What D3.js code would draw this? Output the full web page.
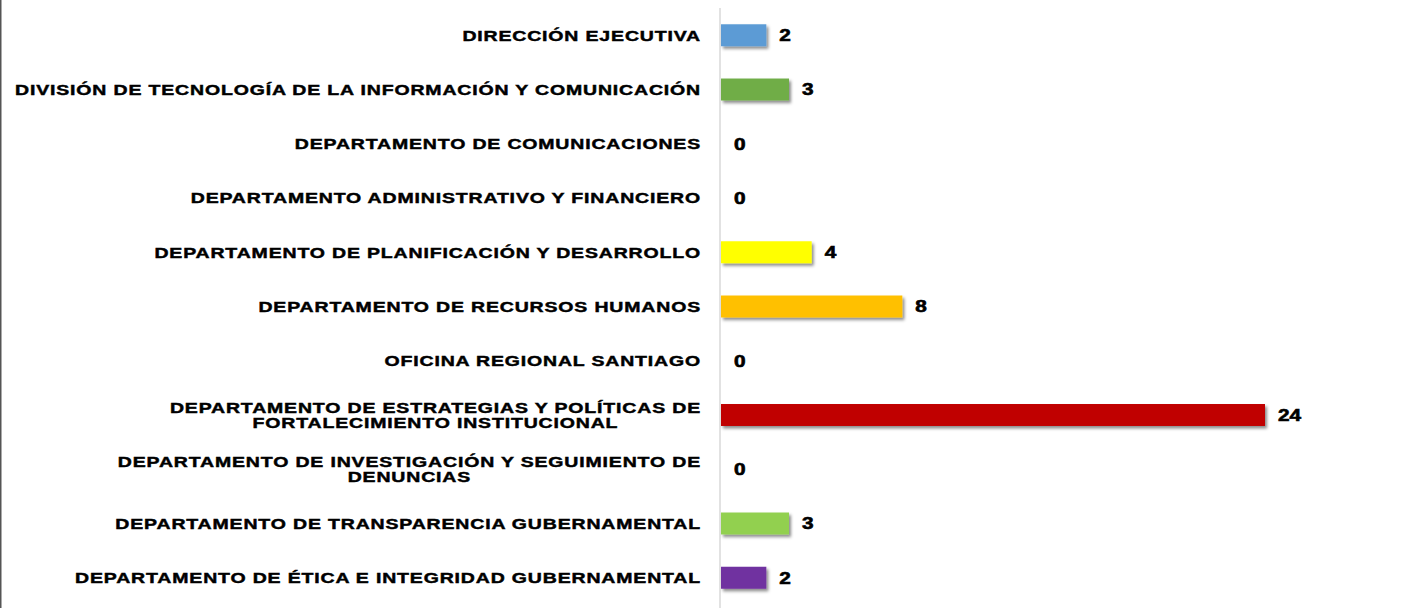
<!DOCTYPE html>
<html><head><meta charset="utf-8">
<script src="https://cdn.jsdelivr.net/npm/d3@7"></script>
<style>
html,body{margin:0;padding:0;background:#fff;}
svg{display:block;}
text{font-family:"Liberation Sans",Arial,sans-serif;font-weight:bold;fill:#000;}
</style></head><body>
<svg id="chart" width="1422" height="608"></svg>
<script>
const categories = [
  ["DIRECCIÓN EJECUTIVA"],
  ["DIVISIÓN DE TECNOLOGÍA DE LA INFORMACIÓN Y COMUNICACIÓN"],
  ["DEPARTAMENTO DE COMUNICACIONES"],
  ["DEPARTAMENTO ADMINISTRATIVO Y FINANCIERO"],
  ["DEPARTAMENTO DE PLANIFICACIÓN Y DESARROLLO"],
  ["DEPARTAMENTO DE RECURSOS HUMANOS"],
  ["OFICINA REGIONAL SANTIAGO"],
  ["DEPARTAMENTO DE ESTRATEGIAS Y POLÍTICAS DE", "FORTALECIMIENTO INSTITUCIONAL"],
  ["DEPARTAMENTO DE INVESTIGACIÓN Y SEGUIMIENTO DE", "DENUNCIAS"],
  ["DEPARTAMENTO DE TRANSPARENCIA GUBERNAMENTAL"],
  ["DEPARTAMENTO DE ÉTICA E INTEGRIDAD GUBERNAMENTAL"]
];
const values = [2, 3, 0, 0, 4, 8, 0, 24, 0, 3, 2];
const colors = ["#5B9BD5", "#70AD47", "#A5A5A5", "#A5A5A5", "#FFFF00", "#FFC000", "#A5A5A5", "#C00000", "#A5A5A5", "#92D050", "#7030A0"];

const W = 1422, H = 608;
const svg = d3.select("#chart");
const x0 = 721;
const x = d3.scaleLinear().domain([0, 24]).range([x0, 1265]);
const y = d3.scaleBand().domain(d3.range(values.length)).range([8, 605]).paddingInner(0.595).paddingOuter(0.3);

const defs = svg.append("defs");
const f = defs.append("filter").attr("id", "sh").attr("x", "-10%").attr("y", "-30%").attr("width", "130%").attr("height", "180%");
f.append("feDropShadow").attr("dx", 2).attr("dy", 2.5).attr("stdDeviation", 1.6).attr("flood-color", "#000").attr("flood-opacity", 0.45);

// left border
svg.append("line").attr("x1", 0.5).attr("x2", 0.5).attr("y1", 0).attr("y2", H).attr("stroke", "#555").attr("stroke-width", 2);

// axis line
svg.append("line").attr("x1", 720).attr("x2", 720).attr("y1", 8).attr("y2", H).attr("stroke", "#d9d9d9").attr("stroke-width", 1.5);

// bars
svg.selectAll("rect.bar").data(values).join("rect")
  .attr("class", "bar")
  .attr("x", x0)
  .attr("y", (d, i) => y(i))
  .attr("width", d => x(d) - x0)
  .attr("height", y.bandwidth())
  .attr("fill", (d, i) => colors[i])
  .attr("filter", "url(#sh)")
  .style("display", d => d > 0 ? null : "none");

const sx = 1.3;
// value labels
svg.selectAll("text.val").data(values).join("text")
  .attr("class", "val")
  .attr("transform", (d, i) => `translate(${x(d) + 13},${y(i) + y.bandwidth() / 2}) scale(${sx},1)`)
  .attr("dy", "0.36em")
  .attr("font-size", 16)
  .attr("stroke", "#000").attr("stroke-width", 0.6)
  .text(d => d);

// category labels
const fs = 15;
const ls = 0.65;
const labelRight = 701;
const g = svg.append("g").attr("transform", `translate(${labelRight},0) scale(${sx},1)`);
categories.forEach((lines, i) => {
  const cy = y(i) + y.bandwidth() / 2;
  const t = g.append("text").attr("font-size", fs).attr("stroke", "#000").attr("stroke-width", 0.45)
    .attr("letter-spacing", ls);
  if (lines.length === 1) {
    t.attr("text-anchor", "end").attr("x", 0).attr("y", cy).attr("dy", "0.36em").text(lines[0]);
  } else {
    const tmp = g.append("text").attr("font-size", fs).attr("letter-spacing", ls).text(lines[0]);
    const w = tmp.node().getComputedTextLength();
    tmp.remove();
    t.attr("text-anchor", "middle");
    lines.forEach((ln, k) => {
      t.append("tspan").attr("x", -w / 2).attr("y", cy + (k - (lines.length - 1) / 2) * 14.5).attr("dy", "0.36em").text(ln);
    });
  }
});
</script>
</body></html>
